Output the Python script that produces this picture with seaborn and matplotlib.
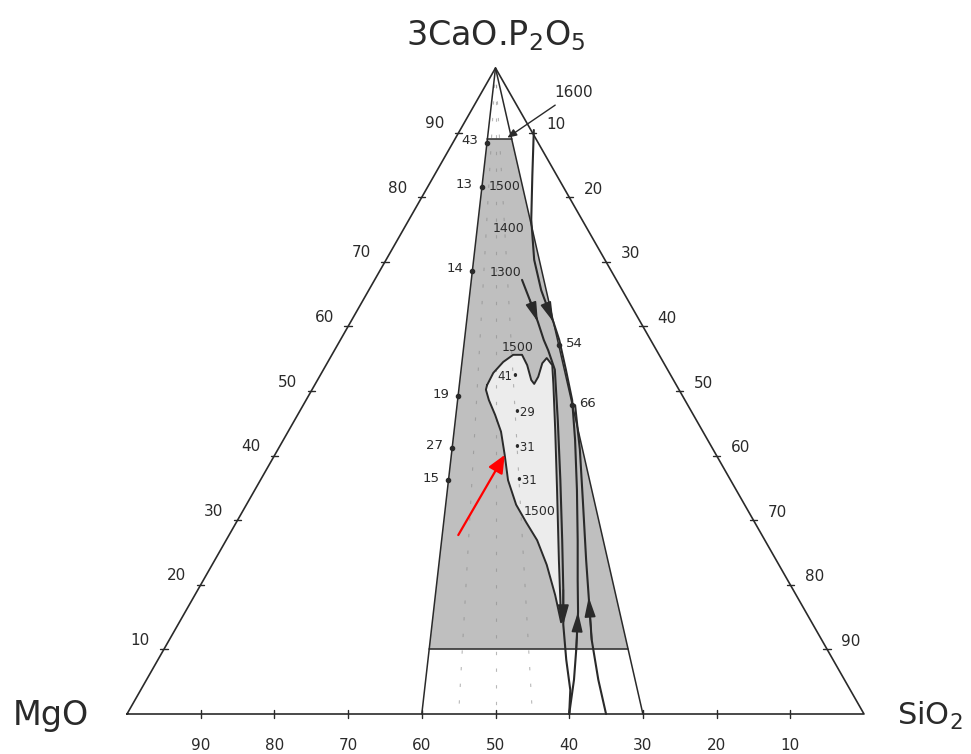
import numpy as np
import pandas as pd
import matplotlib
matplotlib.use("Agg")
import matplotlib.pyplot as plt
import seaborn as sns

# ---------------- data (compositions in %) ----------------
# P = % 3CaO.P2O5, S = % SiO2, MgO = 100 - P - S
tick_values = [10, 20, 30, 40, 50, 60, 70, 80, 90]

ray_left_base_S = 40      # join line apex -> MgO 60 / SiO2 40
ray_right_base_S = 70     # join line apex -> MgO 30 / SiO2 70
level_top = 89            # upper limit of studied field
level_bottom = 10         # lower limit of studied field
dash_ray_base_S = [45, 50, 55]

curveB_P = [90.4, 83.4, 76.5, 70.3, 65.6, 62.8, 60.7, 57.9, 53.3, 48.6, 42.4, 34.7, 26.9, 20.7, 15.8, 9.9, 5.3, 0.0]
curveB_S = [10.0, 13.3, 16.6, 20.1, 23.4, 25.7, 27.5, 29.7, 32.9, 36.1, 39.6, 43.7, 47.7, 50.8, 53.3, 56.0, 58.0, 60.0]

curveC_P = [67.2, 64.1, 60.7, 57.9, 56.3, 53.3, 45.5, 36.2, 26.9, 19.2, 13.8, 8.4, 3.7, 0.0]
curveC_S = [20.0, 22.6, 25.4, 27.6, 29.0, 31.4, 35.7, 40.7, 45.6, 49.6, 52.3, 55.4, 58.3, 60.0]

curveD_P = [0.0, 5.3, 11.5, 18.1, 23.8, 33.1, 40.9, 47.8]
curveD_S = [65.0, 61.3, 57.3, 53.6, 50.4, 45.3, 41.0, 36.9]

liquid_P = [50.9, 52.8, 54.5, 55.6, 55.6, 54.0, 51.7, 51.1, 52.2, 54.3, 55.1, 54.0, 51.1, 44.0,
            34.7, 23.8, 14.2, 18.4, 23.1, 26.9, 29.7, 32.4, 36.2, 40.1, 43.7, 46.3, 48.6, 50.2]
liquid_S = [23.4, 23.3, 23.8, 24.6, 25.8, 27.3, 29.0, 29.7, 29.7, 29.2, 29.4, 30.7, 32.3, 36.1,
            41.0, 46.7, 51.8, 48.9, 45.4, 42.2, 39.3, 36.6, 33.6, 31.2, 28.9, 26.8, 24.8, 23.6]

left_pts_P = [88.4, 81.6, 68.6, 49.2, 41.2, 36.2]
left_pts_lab = ["43", "13", "14", "19", "27", "15"]
right_pts_P = [57.1, 47.8]
right_pts_lab = ["54", "66"]

temp_lab = ["1500", "1400", "1300", "1500", "1500"]
temp_P = [81.6, 75.2, 68.4, 56.7, 31.3]
temp_S = [10.5, 14.2, 17.2, 24.6, 40.4]

inner_lab = ["41\u2022", "\u202229", "\u202231", "\u202231"]
inner_P = [52.2, 46.6, 41.2, 36.2]
inner_S = [25.6, 30.6, 33.3, 36.0]

label1600_P, label1600_S = 89.2, 7.0
red_from_P, red_from_S = 27.7, 31.1
red_to_P, red_to_S = 40.1, 31.2


def tern(P, S):
    P = np.asarray(P, float)
    S = np.asarray(S, float)
    return S + P / 2.0, P


# ---------------- figure ----------------
sns.set_theme(style="white")
plt.rcParams["font.family"] = ["DejaVu Sans"]
fig = plt.figure(figsize=(9.71, 7.54), dpi=100)
ax = fig.add_axes([0, 0, 1, 1])
ax.set_xlim(-127 / 7.37, (971 - 127) / 7.37)
ax.set_ylim(-(754 - 714) / 6.46, 714 / 6.46)
ax.axis("off")

ink = "#2a2a2a"
gray = "#bfbfbf"
light = "#ececec"


def ray_S(base_S, P):
    return base_S * (100.0 - np.asarray(P, float)) / 100.0


# shaded field
fx, fy = tern([level_bottom, level_top, level_top, level_bottom],
              [ray_S(ray_left_base_S, level_bottom), ray_S(ray_left_base_S, level_top),
               ray_S(ray_right_base_S, level_top), ray_S(ray_right_base_S, level_bottom)])
ax.fill(fx, fy, color=gray, lw=0, zorder=1)

# light liquid region
lx, ly = tern(liquid_P + [liquid_P[0]], liquid_S + [liquid_S[0]])
ax.fill(lx, ly, color=light, lw=0, zorder=2)

# faint dashed join lines
for b in dash_ray_base_S:
    Ps = np.array([100.0, 0.0])
    x, y = tern(Ps, ray_S(b, Ps))
    ax.plot(x, y, color="#8a8a8a", lw=0.8, dashes=(3, 12), alpha=0.6, zorder=3)

# triangle outline
tri = pd.DataFrame({"P": [0, 100, 0, 0], "S": [0, 0, 100, 0]})
tx, ty = tern(tri["P"], tri["S"])
sns.lineplot(x=tx, y=ty, sort=False, estimator=None, color=ink, lw=1.2, ax=ax, zorder=5)

# join lines apex -> base and horizontal limits
for b in [ray_left_base_S, ray_right_base_S]:
    Ps = np.array([100.0, 0.0])
    x, y = tern(Ps, ray_S(b, Ps))
    ax.plot(x, y, color=ink, lw=1.1, zorder=5)
for lev in [level_top, level_bottom]:
    x, y = tern([lev, lev], [ray_S(ray_left_base_S, lev), ray_S(ray_right_base_S, lev)])
    ax.plot(x, y, color=ink, lw=1.1, zorder=5)

# ticks and labels
for v in tick_values:
    # left edge: 3CaO.P2O5 %
    x, y = tern([v, v], [-0.5, 0.5])
    ax.plot(x, y, color=ink, lw=1.0, zorder=5)
    px, py = tern(v, 0)
    ax.annotate(str(v), (px, py), xytext=(-24, 9), textcoords="offset pixels",
                ha="center", va="center", fontsize=11, color=ink)
    # right edge: SiO2 %
    x, y = tern([100 - v, 100 - v], [v - 0.5, v + 0.5])
    ax.plot(x, y, color=ink, lw=1.0, zorder=5)
    px, py = tern(100 - v, v)
    ax.annotate(str(v), (px, py), xytext=(24, 8), textcoords="offset pixels",
                ha="center", va="center", fontsize=11, color=ink)
    # base: MgO %
    x, y = tern([-0.6, 0.6], [100 - v + 0.3, 100 - v - 0.3])
    ax.plot(x, y, color=ink, lw=1.0, zorder=5)
    px, py = tern(0, 100 - v)
    ax.annotate(str(v), (px, py), xytext=(0, -31), textcoords="offset pixels",
                ha="center", va="center", fontsize=11, color=ink)

# corner labels
ax.annotate(r"3CaO.P$_2$O$_5$", tern(100, 0), xytext=(0, 32), textcoords="offset pixels",
            ha="center", va="center", fontsize=24, color=ink)
ax.annotate("MgO", tern(0, 0), xytext=(-76, -2), textcoords="offset pixels",
            ha="center", va="center", fontsize=24, color=ink)
ax.annotate(r"SiO$_2$", tern(0, 100), xytext=(66, -2), textcoords="offset pixels",
            ha="center", va="center", fontsize=22, color=ink)

# crystallisation curves
for Pl, Sl in [(curveB_P, curveB_S), (curveC_P, curveC_S), (curveD_P, curveD_S)]:
    x, y = tern(Pl, Sl)
    sns.lineplot(x=x, y=y, sort=False, estimator=None, color=ink, lw=1.5, ax=ax, zorder=6)
ax.plot(lx, ly, color=ink, lw=1.4, zorder=6)


def arrow_on(Pl, Sl, i_from, i_to):
    x, y = tern(Pl, Sl)
    ax.annotate("", xy=(x[i_to], y[i_to]), xytext=(x[i_from], y[i_from]),
                arrowprops=dict(arrowstyle="-|>,head_length=1.0,head_width=0.28",
                                color=ink, lw=1.2, shrinkA=0, shrinkB=0), zorder=7)


arrow_on(curveB_P, curveB_S, 5, 6)
arrow_on(curveB_P, curveB_S, 15, 14)
arrow_on(curveC_P, curveC_S, 1, 2)
arrow_on(curveC_P, curveC_S, 9, 10)
arrow_on(curveD_P, curveD_S, 2, 3)

# points on the join lines
for Pv, lab in zip(left_pts_P, left_pts_lab):
    x, y = tern(Pv, ray_S(ray_left_base_S, Pv))
    ax.plot([x], [y], marker="o", ms=3, color=ink, zorder=7)
    ax.annotate(lab, (x, y), xytext=(-9, 2), textcoords="offset pixels",
                ha="right", va="center", fontsize=9.5, color=ink)
for Pv, lab in zip(right_pts_P, right_pts_lab):
    x, y = tern(Pv, ray_S(ray_right_base_S, Pv))
    ax.plot([x], [y], marker="o", ms=3, color=ink, zorder=7)
    ax.annotate(lab, (x, y), xytext=(7, 2), textcoords="offset pixels",
                ha="left", va="center", fontsize=9.5, color=ink)

# isotherm labels
for lab, Pv, Sv in zip(temp_lab, temp_P, temp_S):
    x, y = tern(Pv, Sv)
    ax.text(x, y, lab, ha="center", va="center", fontsize=9, color=ink, zorder=8)
for lab, Pv, Sv in zip(inner_lab, inner_P, inner_S):
    x, y = tern(Pv, Sv)
    ax.text(x, y, lab, ha="center", va="center", fontsize=8.5, color=ink, zorder=8)

# 1600 leader
ax.annotate("1600", tern(label1600_P, label1600_S), xytext=(66, 45), textcoords="offset pixels",
            ha="center", va="center", fontsize=11, color=ink,
            arrowprops=dict(arrowstyle="-|>,head_length=0.5,head_width=0.2", color=ink, lw=1.0,
                            shrinkA=2, shrinkB=0))

# red arrow
ax.annotate("", xy=tern(red_to_P, red_to_S), xytext=tern(red_from_P, red_from_S),
            arrowprops=dict(arrowstyle="-|>,head_length=0.9,head_width=0.4", color="red", lw=1.6,
                            shrinkA=0, shrinkB=0), zorder=9)

fig.savefig("out.png", dpi=100, facecolor="white")
